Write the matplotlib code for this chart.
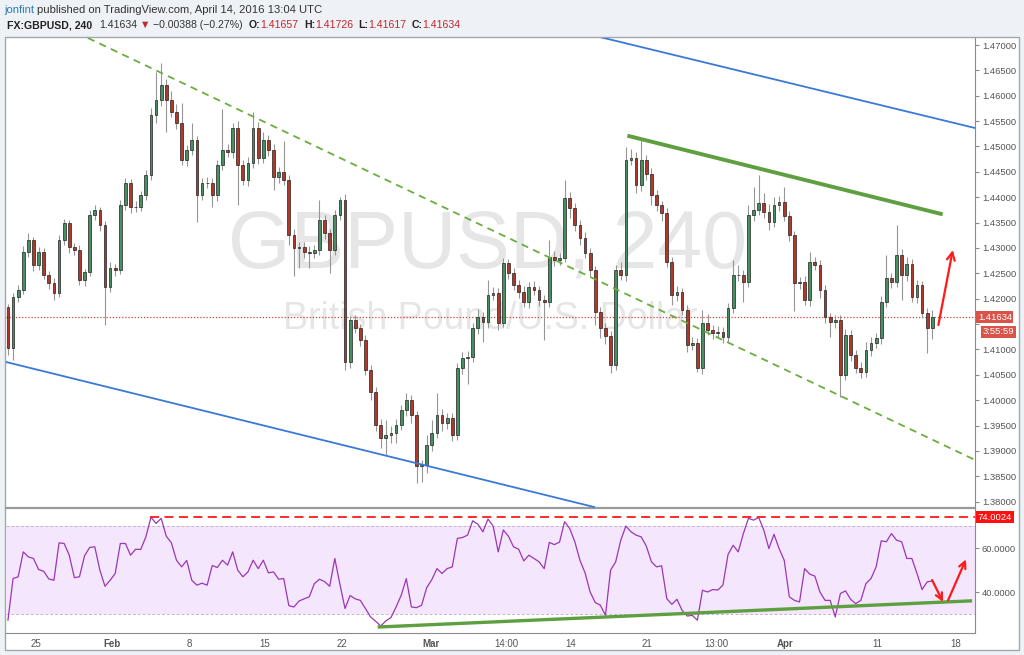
import numpy as np
import matplotlib
matplotlib.use("Agg")
import matplotlib.pyplot as plt
from matplotlib.patches import Rectangle
import matplotlib.transforms as mtrans

# ---- data (8h bars, x in trading days from Jan 25) ----
first_day = -1.83
bars_per_day = 3
first_open = 1.4184

close = [
    1.4103, 1.4203, 1.4217, 1.4292, 1.4316, 1.4266, 1.4292, 1.4247, 1.4231, 1.4211,
    1.4316, 1.4349, 1.4302, 1.4296, 1.4237, 1.4253, 1.4365, 1.4375, 1.4345, 1.4223,
    1.4261, 1.4257, 1.4385, 1.4428, 1.4381, 1.4381, 1.4404, 1.4444, 1.4562, 1.4592,
    1.4621, 1.4592, 1.4568, 1.4546, 1.4473, 1.4493, 1.4513, 1.4404, 1.4428, 1.4428,
    1.4404, 1.4464, 1.4493, 1.4489, 1.4536, 1.4464, 1.4434, 1.4467, 1.4536, 1.4477,
    1.4513, 1.4493, 1.4440, 1.4450, 1.4434, 1.4326, 1.4300, 1.4302, 1.4292, 1.4290,
    1.4296, 1.4355, 1.4330, 1.4296, 1.4365, 1.4395, 1.4075, 1.4158, 1.4142, 1.4119,
    1.4059, 1.4016, 1.3951, 1.3925, 1.3931, 1.3935, 1.3951, 1.3981, 1.4000, 1.3971,
    1.3870, 1.3872, 1.3912, 1.3935, 1.3971, 1.3955, 1.3965, 1.3931, 1.4063, 1.4083,
    1.4085, 1.4142, 1.4164, 1.4154, 1.4207, 1.4211, 1.4152, 1.4270, 1.4251, 1.4227,
    1.4213, 1.4194, 1.4223, 1.4217, 1.4197, 1.4194, 1.4282, 1.4276, 1.4280, 1.4398,
    1.4379, 1.4345, 1.4320, 1.4290, 1.4257, 1.4174, 1.4142, 1.4126, 1.4069, 1.4257,
    1.4247, 1.4473, 1.4477, 1.4424, 1.4473, 1.4446, 1.4404, 1.4385, 1.4369, 1.4272,
    1.4207, 1.4213, 1.4178, 1.4109, 1.4113, 1.4063, 1.4152, 1.4138, 1.4132, 1.4134,
    1.4125, 1.4182, 1.4247, 1.4247, 1.4233, 1.4365, 1.4375, 1.4389, 1.4371, 1.4351,
    1.4385, 1.4391, 1.4363, 1.4326, 1.4231, 1.4233, 1.4197, 1.4272, 1.4266, 1.4217,
    1.4164, 1.4154, 1.4158, 1.4050, 1.4128, 1.4089, 1.4063, 1.4056, 1.4099, 1.4113,
    1.4123, 1.4194, 1.4241, 1.4233, 1.4286, 1.4247, 1.4268, 1.4203, 1.4227, 1.4172,
    1.4142, 1.41634,
]

# wick lengths beyond the body, in pips
upper_pips = [
    5, 8, 10, 12, 14, 6, 10, 8, 7, 9,
    10, 8, 6, 8, 10, 6, 10, 9, 6, 8,
    12, 8, 10, 10, 7, 12, 8, 10, 14, 55,
    44, 12, 18, 15, 40, 10, 33, 8, 10, 12,
    10, 10, 80, 12, 10, 14, 10, 12, 32, 12,
    15, 10, 12, 10, 60, 10, 12, 10, 10, 12,
    10, 40, 10, 8, 10, 5, 12, 8, 10, 8,
    10, 10, 10, 12, 30, 15, 12, 10, 15, 10,
    8, 10, 20, 25, 43, 12, 10, 10, 10, 12,
    12, 10, 15, 10, 30, 12, 10, 10, 8, 10,
    10, 12, 10, 12, 8, 10, 34, 12, 10, 36,
    12, 10, 10, 12, 10, 8, 10, 10, 10, 10,
    15, 26, 18, 12, 40, 10, 12, 10, 8, 10,
    10, 12, 8, 10, 12, 10, 25, 18, 10, 12,
    10, 10, 30, 20, 10, 20, 45, 55, 20, 15,
    15, 12, 29, 10, 8, 10, 12, 20, 10, 10,
    10, 8, 10, 10, 12, 10, 10, 12, 15, 12,
    10, 12, 45, 10, 59, 12, 14, 10, 10, 8,
    10, 14,
]
lower_pips = [
    14, 24, 10, 8, 10, 12, 10, 8, 12, 14,
    8, 10, 12, 10, 10, 12, 8, 10, 12, 75,
    10, 12, 8, 10, 12, 10, 8, 10, 10, 15,
    12, 63, 10, 12, 10, 12, 10, 53, 10, 10,
    23, 12, 10, 10, 12, 80, 10, 12, 10, 12,
    10, 12, 26, 12, 10, 20, 55, 40, 12, 30,
    10, 10, 12, 45, 10, 10, 16, 12, 10, 12,
    10, 15, 12, 20, 35, 15, 20, 10, 12, 15,
    33, 32, 15, 12, 10, 15, 12, 12, 10, 12,
    51, 10, 12, 40, 12, 10, 14, 8, 12, 10,
    12, 10, 12, 10, 12, 75, 10, 12, 10, 8,
    20, 12, 15, 10, 12, 25, 20, 15, 15, 10,
    10, 12, 10, 15, 12, 12, 20, 12, 15, 10,
    20, 12, 10, 15, 10, 8, 12, 10, 12, 10,
    12, 10, 10, 12, 40, 10, 12, 10, 12, 15,
    10, 12, 10, 12, 55, 12, 10, 12, 10, 15,
    12, 30, 12, 44, 10, 12, 10, 12, 10, 12,
    10, 12, 10, 12, 10, 50, 12, 10, 12, 10,
    50, 22,
]

rsi = [
    27.3, 46.2, 47.0, 58.3, 56.0, 55.3, 50.3, 49.5, 46.0, 45.4,
    62.4, 62.1, 56.8, 46.6, 47.0, 56.5, 60.3, 60.6, 50.0, 42.7,
    45.4, 48.5, 62.1, 62.1, 56.8, 59.5, 59.4, 65.1, 74.0, 71.2,
    73.5, 65.4, 62.4, 54.5, 51.5, 54.4, 45.4, 43.2, 44.1, 43.2,
    52.1, 51.2, 54.5, 52.3, 58.3, 50.0, 47.0, 49.2, 54.5, 50.7,
    54.5, 48.8, 49.2, 45.9, 46.2, 33.9, 33.3, 36.0, 37.0, 37.9,
    43.9, 45.9, 44.8, 42.7, 55.3, 43.6, 32.6, 38.5, 37.0, 36.3,
    32.6, 28.8, 26.8, 24.7, 27.0, 28.5, 33.3, 38.6, 46.2, 33.3,
    33.0, 34.1, 42.1, 45.7, 50.7, 48.5, 50.7, 51.5, 64.4, 64.8,
    65.9, 72.4, 70.9, 67.4, 73.2, 70.0, 58.3, 68.2, 65.4, 60.6,
    59.5, 54.2, 56.8, 55.3, 53.8, 50.7, 62.6, 61.6, 62.7, 72.0,
    68.9, 62.9, 54.5, 48.8, 40.1, 35.3, 34.1, 29.5, 50.0, 53.8,
    63.6, 70.0, 67.4, 65.9, 65.1, 60.9, 53.8, 51.5, 52.0, 37.1,
    34.5, 36.8, 31.8, 29.2, 29.5, 27.3, 40.9, 40.1, 41.2, 41.0,
    43.2, 57.1, 61.3, 58.3, 66.6, 73.5, 72.7, 73.9, 68.2, 59.8,
    66.3, 59.8, 54.5, 37.9, 36.3, 35.6, 50.7, 48.2, 47.3, 40.1,
    36.3, 36.3, 28.8, 39.4, 40.6, 36.8, 34.8, 36.3, 43.9, 46.2,
    51.5, 63.3, 62.9, 66.6, 63.6, 62.9, 55.3, 55.3, 48.5, 41.2,
    44.7, 45.1,
]

tick_days = [0, 4.96, 10.0, 14.95, 19.97, 25.78, 30.68, 34.92, 39.88, 44.39, 48.89, 54.9, 60.0]
tick_labels = ["25", "Feb", "8", "15", "22", "Mar", "14:00", "14", "21", "13:00", "Apr", "11", "18"]
month_labels = {"Feb", "Mar", "Apr"}

# drawn trendlines: (days, values)
dashed_trend = ([3.39, 61.29], [1.47138, 1.38822])
channel_low = ([-1.96, 36.42], [1.40753, 1.37895])
channel_high = ([36.8, 61.29], [1.47158, 1.45364])
wedge_top = ([38.6, 59.18], [1.45213, 1.43663])
rsi_support = ([22.3, 61.1], [24.2, 36.1])
rsi_level = 74.0024
rsi_level_start = 7.44
price_arrow = ((58.9, 1.41482), (59.84, 1.4296))
rsi_arrow_down = ((58.49, 45.5), (59.2, 35.6))
rsi_arrow_up = ((59.53, 36.3), (60.7, 54.9))
last_price = 1.41634

# ---- figure ----
W, H = 1024, 655
fig = plt.figure(figsize=(W / 100, H / 100), dpi=100, facecolor="#eef1f5")
SANS = ["Liberation Sans", "DejaVu Sans"]
plt.rcParams["font.family"] = SANS


def px_axes(x0, y0, x1, y1):
    return fig.add_axes([x0 / W, 1 - y1 / H, (x1 - x0) / W, (y1 - y0) / H])


fig.patches.append(Rectangle((5 / W, 1 - 650 / H), 1014 / W, 613 / H, transform=fig.transFigure,
                             facecolor="white", edgecolor="#a3a7ad", lw=1, zorder=-5))

ax = px_axes(6, 38, 975, 508)
rx = px_axes(6, 508, 975, 633)
xlim = (-1.958, 61.29)

# candles
c = np.array(close)
n = len(c)
xs = first_day + np.arange(n) / bars_per_day
opens = np.r_[first_open, c[:-1]]
top = np.maximum(opens, c)
bot = np.minimum(opens, c)
highs = top + np.array(upper_pips) * 1e-4
lows = bot - np.array(lower_pips) * 1e-4
up = c >= opens
ax.vlines(xs, lows, highs, color="#969696", lw=0.8, zorder=2)
ax.bar(xs, np.maximum(top - bot, 0.00004), bottom=bot, width=0.18,
       color=np.where(up, "#468f60", "#b03828"), edgecolor="#222222", lw=0.5, zorder=3)

# watermark
ax.text(0.497, 0.557, "GBPUSD, 240", transform=ax.transAxes, ha="center", va="center",
        fontsize=58, color="#e6e6e6", zorder=0, family="Liberation Sans")
ax.text(0.50, 0.402, "British Pound/U.S. Dollar", transform=ax.transAxes, ha="center", va="center",
        fontsize=27, color="#e6e6e6", zorder=0, family="Liberation Sans")

# trendlines
ax.plot(*dashed_trend, color="#6aae3e", lw=1.3, dashes=(4, 3), zorder=4)
ax.plot(*channel_low, color="#3a79d6", lw=1.3, zorder=4)
ax.plot(*channel_high, color="#3a79d6", lw=1.3, zorder=4)
ax.plot(*wedge_top, color="#5e9f3f", lw=2.8, zorder=4, solid_capstyle="butt")
ax.axhline(last_price, color="#d6453d", lw=0.9, ls=(0, (1, 1.5)), zorder=1)
ax.annotate("", xy=price_arrow[1], xytext=price_arrow[0],
            arrowprops=dict(arrowstyle="->", color="#ff1a1a", lw=1.6, mutation_scale=14,
                            shrinkA=0, shrinkB=0), zorder=5)

ax.set_xlim(*xlim)
ax.set_ylim(1.37875, 1.47138)
ax.set_xticks([])
ax.yaxis.tick_right()
yt = np.arange(1.38, 1.47001, 0.005)
ax.set_yticks(yt)
# the 1.41500 label sits under the last-price boxes, so it is not shown
ax.set_yticklabels(["" if abs(v - 1.415) < 1e-6 else f"{v:.5f}" for v in yt])
ax.tick_params(axis="y", length=3, width=0.8, color="#8a8a8a", labelsize=6.8,
               labelcolor="#555555", pad=2)
for s in ["top", "left"]:
    ax.spines[s].set_visible(False)
ax.spines["right"].set_color("#8a8a8a")
ax.spines["bottom"].set_color("#9a9a9a")
ax.spines["bottom"].set_linewidth(1.6)
ax.patch.set_alpha(0)

bt = mtrans.blended_transform_factory(ax.transAxes, ax.transData)
ax.text(1.003, last_price, "1.41634", transform=bt, ha="left", va="center", color="white",
        fontsize=6.8, bbox=dict(boxstyle="square,pad=0.15", fc="#d9534a", ec="none"), clip_on=False)
ax.text(1.008, last_price - 0.0029, "3:55:59", transform=bt, ha="left", va="center", color="white",
        fontsize=6.8, bbox=dict(boxstyle="square,pad=0.15", fc="#d9534a", ec="none"), clip_on=False)

# RSI panel
rx.axhspan(30, 70, color="#f4e6fc", zorder=0, lw=0)
rx.axhline(70, color="#c4b4cc", lw=0.7, ls=(0, (3, 2)), zorder=1)
rx.axhline(30, color="#c4b4cc", lw=0.7, ls=(0, (3, 2)), zorder=1)
rx.plot(xs, rsi, color="#9c36b5", lw=0.9, zorder=3)
rx.plot([rsi_level_start, xlim[1]], [rsi_level, rsi_level], color="#ff1a1a", lw=1.3,
        dashes=(5, 3), zorder=4)
rx.plot(*rsi_support, color="#5e9f3f", lw=2.4, zorder=4, solid_capstyle="butt")
for a in (rsi_arrow_down, rsi_arrow_up):
    rx.annotate("", xy=a[1], xytext=a[0],
                arrowprops=dict(arrowstyle="->", color="#ff1a1a", lw=1.6, mutation_scale=12,
                                shrinkA=0, shrinkB=0), zorder=5)
rx.set_xlim(*xlim)
rx.set_ylim(21.5, 78.2)
rx.yaxis.tick_right()
rx.set_yticks([40, 60])
rx.set_yticklabels(["40.0000", "60.0000"])
rx.tick_params(axis="y", length=3, width=0.8, color="#8a8a8a", labelsize=6.8,
               labelcolor="#555555", pad=2)
rx.set_xticks(tick_days)
rx.set_xticklabels(tick_labels)
rx.tick_params(axis="x", length=0, labelsize=7, labelcolor="#555555", pad=4)
for lab in rx.get_xticklabels():
    if lab.get_text() in month_labels:
        lab.set_fontweight("bold")
for s in ["top", "left"]:
    rx.spines[s].set_visible(False)
rx.spines["right"].set_color("#8a8a8a")
rx.spines["bottom"].set_color("#8a8a8a")
rx.patch.set_alpha(0)
rbt = mtrans.blended_transform_factory(rx.transAxes, rx.transData)
rx.text(1.003, rsi_level, "74.0024", transform=rbt, ha="left", va="center", color="white",
        fontsize=6.8, bbox=dict(boxstyle="square,pad=0.15", fc="#ff1010", ec="none"), clip_on=False)

# header
renderer = fig.canvas.get_renderer()


def text_run(x_px, y_px, parts, size):
    x = x_px
    for s, color, weight, gap in parts:
        t = fig.text(x / W, 1 - y_px / H, s, color=color, fontweight=weight, fontsize=size,
                     ha="left", va="center", family=SANS)
        x += t.get_window_extent(renderer=renderer).width + gap


text_run(4, 10, [("jonfint", "#2b7bb9", "normal", 3),
                 ("published on TradingView.com, April 14, 2016 13:04 UTC", "#333333", "normal", 0)], 8.1)
red = "#c0282d"
text_run(7, 25, [("FX:GBPUSD, 240", "#222222", "bold", 7),
                 ("1.41634", "#333333", "normal", 3),
                 ("\u25bc", red, "normal", 2),
                 ("\u22120.00388 (\u22120.27%)", "#333333", "normal", 6),
                 ("O:", "#222222", "bold", 0), ("1.41657", red, "normal", 6),
                 ("H:", "#222222", "bold", 0), ("1.41726", red, "normal", 5),
                 ("L:", "#222222", "bold", 0), ("1.41617", red, "normal", 5),
                 ("C:", "#222222", "bold", 0), ("1.41634", red, "normal", 0)], 7.6)

fig.savefig("out.png", dpi=100, facecolor=fig.get_facecolor())
